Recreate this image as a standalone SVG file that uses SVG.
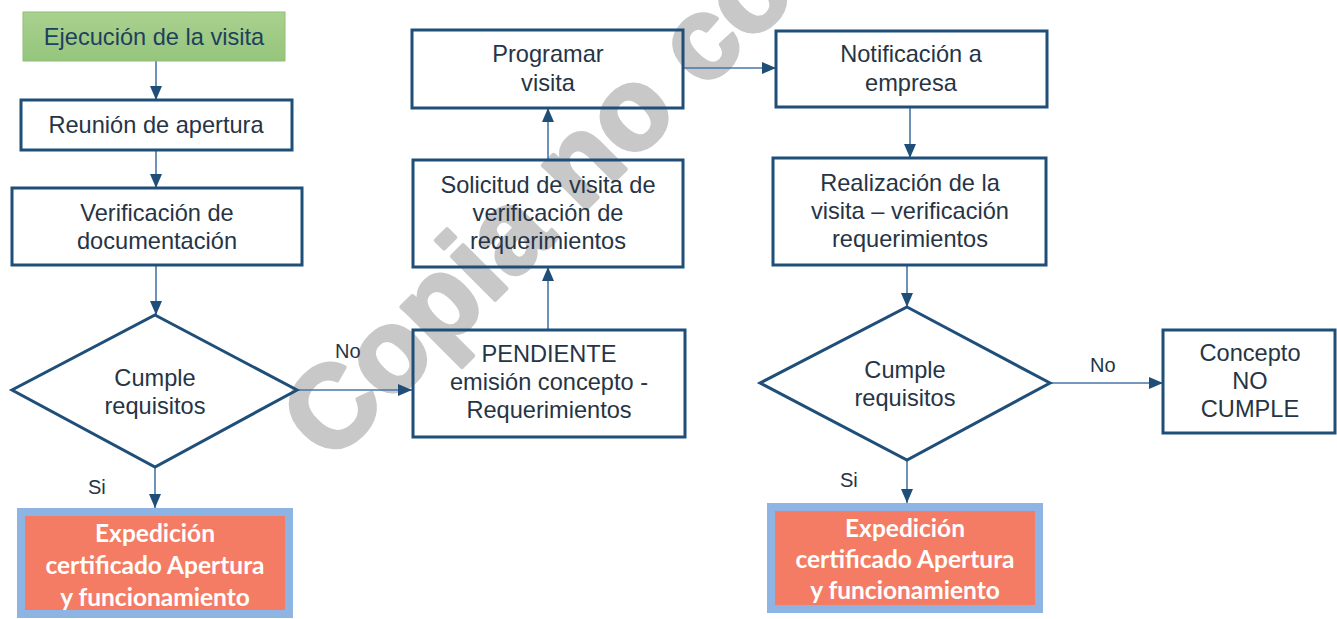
<svg xmlns="http://www.w3.org/2000/svg" width="1337" height="619" viewBox="0 0 1337 619">
<style>
.box{fill:none;stroke:#1F4E79;stroke-width:3}
.t{font-family:"Liberation Sans",Arial,sans-serif;font-size:23.6px;fill:#263445;text-anchor:middle}
.lbl{font-family:"Liberation Sans",Arial,sans-serif;font-size:20px;fill:#263445}
.exp{fill:#F47C64;stroke:#8EB4E3;stroke-width:8}
.et{font-family:Lato,"Open Sans",sans-serif;font-weight:bold;font-size:24.5px;fill:#FFFFFF;text-anchor:middle}
.c{stroke:#4A76A8;stroke-width:1.6;fill:none;marker-end:url(#ah)}
.wm{font-family:"Liberation Sans",Arial,sans-serif;font-weight:bold;font-size:116px;fill:#C8C8C8;stroke:#C8C8C8;stroke-width:4;stroke-linejoin:round;stroke-linecap:round}
</style>
<defs>
<linearGradient id="gg" x1="0" y1="0" x2="0" y2="1">
<stop offset="0" stop-color="#A9D18E"/>
<stop offset="1" stop-color="#95C57C"/>
</linearGradient>
<marker id="ah" viewBox="0 0 14 12" refX="14" refY="6" markerWidth="14" markerHeight="12" markerUnits="userSpaceOnUse" orient="auto">
<path d="M0,0 L14,6 L0,12 Z" fill="#1F4E79"/>
</marker>
</defs>
<rect width="1337" height="619" fill="#FFFFFF"/>
<text class="wm" transform="translate(330,465) rotate(-45)">Copia no co</text>

<g id="connectors">
<line class="c" x1="156" y1="61" x2="156" y2="100"/>
<line class="c" x1="156" y1="150" x2="156" y2="188"/>
<line class="c" x1="156" y1="265" x2="156" y2="315"/>
<line class="c" x1="297" y1="390" x2="412" y2="390"/>
<line class="c" x1="155" y1="467" x2="155" y2="508"/>
<line class="c" x1="548" y1="330" x2="548" y2="267"/>
<line class="c" x1="548" y1="160" x2="548" y2="108"/>
<line class="c" x1="683" y1="68" x2="776" y2="68"/>
<line class="c" x1="910" y1="107" x2="910" y2="158"/>
<line class="c" x1="907" y1="265" x2="907" y2="307"/>
<line class="c" x1="1050" y1="383" x2="1163" y2="383"/>
<line class="c" x1="907" y1="460" x2="907" y2="503"/>
<text class="lbl" x="335" y="358">No</text>
<text class="lbl" x="88" y="494">Si</text>
<text class="lbl" x="1090" y="372">No</text>
<text class="lbl" x="840" y="487">Si</text>
</g>

<g id="ejecucion">
<rect x="23" y="12" width="262" height="49" fill="url(#gg)" stroke="#8FBF76" stroke-width="1"/>
<text class="t" x="154" y="45" style="fill:#1F3F5F">Ejecución de la visita</text>
</g>
<g id="reunion">
<rect class="box" x="21" y="100" width="271" height="50"/>
<text class="t" x="156" y="133">Reunión de apertura</text>
</g>
<g id="verificacion">
<rect class="box" x="12" y="188" width="290" height="77"/>
<text class="t" x="157" y="221">Verificación de</text>
<text class="t" x="157" y="249">documentación</text>
</g>
<g id="cumple1">
<polygon class="box" points="155,315 297,390 155,467 12,390"/>
<text class="t" x="155" y="386">Cumple</text>
<text class="t" x="155" y="414">requisitos</text>
</g>
<g id="expedicion1">
<rect class="exp" x="21" y="512" width="268" height="102"/>
<text class="et" x="155" y="542">Expedición</text>
<text class="et" x="155" y="574">certificado Apertura</text>
<text class="et" x="155" y="606">y funcionamiento</text>
</g>
<g id="pendiente">
<rect class="box" x="413" y="330" width="272" height="107"/>
<text class="t" x="549" y="362">PENDIENTE</text>
<text class="t" x="549" y="390">emisión concepto -</text>
<text class="t" x="549" y="418">Requerimientos</text>
</g>
<g id="solicitud">
<rect class="box" x="413" y="160" width="270" height="107"/>
<text class="t" x="548" y="193">Solicitud de visita de</text>
<text class="t" x="548" y="221">verificación de</text>
<text class="t" x="548" y="249">requerimientos</text>
</g>
<g id="programar">
<rect class="box" x="412" y="30" width="271" height="78"/>
<text class="t" x="548" y="62">Programar</text>
<text class="t" x="548" y="91">visita</text>
</g>
<g id="notificacion">
<rect class="box" x="776" y="31" width="271" height="76"/>
<text class="t" x="911" y="62">Notificación a</text>
<text class="t" x="911" y="91">empresa</text>
</g>
<g id="realizacion">
<rect class="box" x="773" y="158" width="273" height="107"/>
<text class="t" x="910" y="191">Realización de la</text>
<text class="t" x="910" y="219">visita – verificación</text>
<text class="t" x="910" y="247">requerimientos</text>
</g>
<g id="cumple2">
<polygon class="box" points="907,307 1050,383 907,460 760,383"/>
<text class="t" x="905" y="378">Cumple</text>
<text class="t" x="905" y="406">requisitos</text>
</g>
<g id="concepto">
<rect class="box" x="1163" y="330" width="172" height="103"/>
<text class="t" x="1250" y="361">Concepto</text>
<text class="t" x="1250" y="389">NO</text>
<text class="t" x="1250" y="417">CUMPLE</text>
</g>
<g id="expedicion2">
<rect class="exp" x="771" y="507" width="268" height="102"/>
<text class="et" x="905" y="537">Expedición</text>
<text class="et" x="905" y="568">certificado Apertura</text>
<text class="et" x="905" y="599">y funcionamiento</text>
</g>
</svg>
